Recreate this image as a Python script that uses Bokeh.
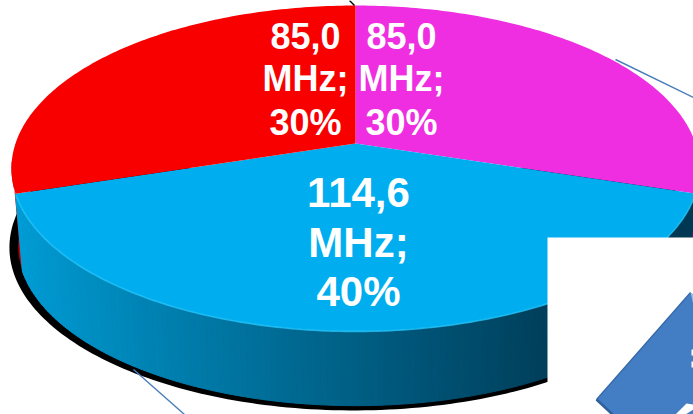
import numpy as np
from bokeh.plotting import figure
from bokeh.embed import file_html
from bokeh.resources import INLINE
from bokeh.core.properties import value

# chart data
categories = ["Magenta band", "Blue band", "Red band"]
mhz = [85.0, 114.6, 85.0]
slice_colors = ["#EE2EE0", "#00AEEF", "#F80000"]
unit = "MHz;"

W, H = 693, 414
p = figure(width=W, height=H, x_range=(0, W), y_range=(H, 0), toolbar_location=None,
           output_backend="svg", min_border=0, outline_line_color=None,
           background_fill_color="white", border_fill_color="white")
p.axis.visible = False
p.grid.visible = False

CX, R, CY, A, K = 355.0, 340.0, 143.0, 159.1, -0.1534
DEPTH = 78.0
BOTTOM = 0.98

def project(t, dy=0.0, dx=0.0, grow=1.0):
    u, v = np.sin(t), -np.cos(t)
    d = 1 + K * v
    return CX + dx + grow * R * u / d, CY + dy + grow * A * v / d

shares = np.array(mhz) / sum(mhz)
edges = np.concatenate([[0.0], np.cumsum(shares)]) * 2 * np.pi

# contact shadow
t = np.linspace(1.2, 2 * np.pi - 1.2, 200)
sx, sy = project(t, dy=DEPTH + 1, dx=-2, grow=1.0)
p.patch(list(sx), list(sy), fill_color="black", line_color=None)

def wall_color(x):
    s = np.clip((x - 15) / 570.0, 0, 1)
    c0, c1 = np.array([0, 158, 215]), np.array([0, 58, 84])
    c = c0 + (c1 - c0) * s ** 0.9
    return "#%02X%02X%02X" % tuple(int(i) for i in c)

# red and magenta wall slivers behind the blue wall
for a, b, col in [(edges[2], edges[2] + 0.2, "#C00000"), (edges[1] - 0.12, edges[1], "#7A1070")]:
    t = np.linspace(a, b, 12)
    x0, y0 = project(t)
    x1, y1 = project(t[::-1], dy=DEPTH, grow=BOTTOM)
    p.patch(list(x0) + list(x1), list(y0) + list(y1), fill_color=col, line_color=None)

ts = np.linspace(edges[1], edges[2], 160)
for a, b in zip(ts[:-1], ts[1:]):
    seg = np.array([a, b])
    x0, y0 = project(seg)
    x1, y1 = project(seg[::-1], dy=DEPTH, grow=BOTTOM)
    col = wall_color(float(x0.mean()))
    p.patch(list(x0) + list(x1), list(y0) + list(y1), fill_color=col, line_color=col, line_width=1)

# top faces
for a, b, col in zip(edges[:-1], edges[1:], slice_colors):
    t = np.linspace(a, b, 120)
    x, y = project(t)
    p.patch([CX] + list(x), [CY] + list(y), fill_color=col, line_color=None)

# lit rim of the front slice
t = np.linspace(edges[1] + 0.01, edges[2] - 0.01, 160)
x, y = project(t)
p.line(list(x), list(y), line_color="#26C4FA", line_width=1.6, line_alpha=0.8)

# labels
def num(v):
    return f"{v:.1f}".replace(".", ",")

pct = [f"{round(s * 100)}%" for s in shares]
for lines, xc, ys, size in [
    ((num(mhz[2]), unit, pct[2]), 305, (35, 78, 122), "36px"),
    ((num(mhz[0]), unit, pct[0]), 401, (35, 78, 122), "36px"),
    ((num(mhz[1]), unit, pct[1]), 358, (192, 242, 291), "42px"),
]:
    p.text([xc] * 3, list(ys), text=list(lines), text_color="white", text_align="center",
           text_baseline="middle", text_font=value("Liberation Sans"), text_font_style="bold",
           text_font_size=size)

# leader lines
p.line([133, 184], [369, 414], line_color="#4A7EBB", line_width=1.4)
p.line([615, 693], [59, 97], line_color="#4A7EBB", line_width=1.4)
p.line([349, 354], [0, 5], line_color="black", line_width=1.4)

# overlapping picture fragment: white card and rotated blue box
p.quad(left=[547], right=[693], top=[237], bottom=[414], fill_color="white", line_color=None)
p.patch([690, 693, 693, 612, 596], [292, 294, 414, 414, 399], fill_color="#437DC3", line_color=None)
p.line([596, 690], [399, 292], line_color="#3568A8", line_width=1.2)
p.line([596, 612], [399, 414], line_color="#2F5F9C", line_width=2.5)
p.patch([690, 693, 693], [292, 294, 305], fill_color="#8FC0EC", line_color=None)
# white glyph fragments inside the cropped box
p.patch([691, 693, 693, 691], [349, 349, 355, 355], fill_color="white", line_color=None)
p.patch([691, 693, 693, 691], [361, 361, 367, 367], fill_color="white", line_color=None)
p.patch([675, 686, 693, 693, 685], [414, 403, 404, 409, 414], fill_color="white", line_color=None)

open("out.html", "w").write(file_html(p, INLINE))
